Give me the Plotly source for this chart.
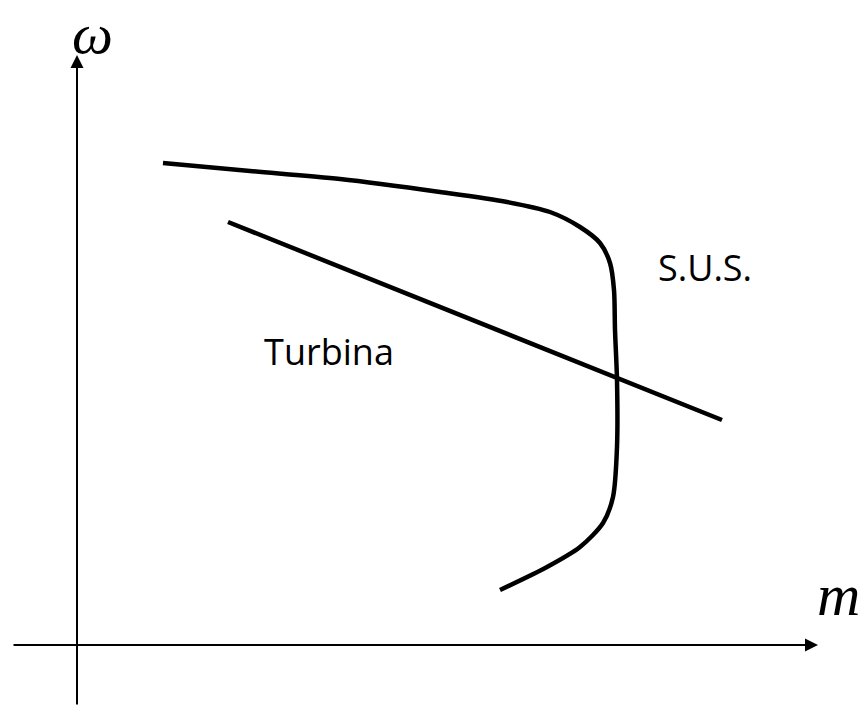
import plotly.graph_objects as go

# S.U.S. curve (m, omega) in chart units
sus_m = [86, 173, 263, 363, 430, 473, 503, 523, 533, 537, 538, 540, 540, 536, 526, 503, 470, 423]
sus_w = [482, 474, 466, 453, 443, 433, 418, 402, 382, 355, 315, 265, 198, 148, 122, 98, 78, 55]

# Turbina straight line
turb_m = [151, 645]
turb_w = [423, 225]

labels = ["Turbina", "S.U.S."]
label_m = [252, 628]
label_w = [289, 373]

fig = go.Figure()
fig.add_trace(go.Scatter(x=sus_m, y=sus_w, mode="lines", line=dict(color="black", width=4.5, shape="spline", smoothing=0.8), hoverinfo="skip"))
fig.add_trace(go.Scatter(x=turb_m, y=turb_w, mode="lines", line=dict(color="black", width=4.5), hoverinfo="skip"))
fig.add_trace(go.Scatter(x=label_m, y=label_w, mode="text", text=labels, textfont=dict(family="Open Sans", size=36, color="black"), hoverinfo="skip"))

# axes with arrows
fig.add_annotation(x=741, y=0, ax=-65, ay=0, xref="x", yref="y", axref="x", ayref="y",
                   showarrow=True, arrowhead=2, arrowsize=1.3, arrowwidth=2, arrowcolor="black", text="")
fig.add_annotation(x=0, y=590, ax=0, ay=-61, xref="x", yref="y", axref="x", ayref="y",
                   showarrow=True, arrowhead=2, arrowsize=1.3, arrowwidth=2, arrowcolor="black", text="")
fig.add_annotation(x=761, y=50, xref="x", yref="y", text="<i>m</i>", showarrow=False,
                   font=dict(family="Liberation Serif", size=60, color="black"))
fig.add_annotation(x=15, y=1, xref="x", yref="paper", yanchor="top", text="<i>ω</i>", showarrow=False,
                   borderpad=0, font=dict(family="Liberation Serif", size=58, color="black"))

fig.update_layout(width=864, height=706, margin=dict(l=0, r=0, t=0, b=0),
                  plot_bgcolor="white", paper_bgcolor="white", showlegend=False,
                  xaxis=dict(range=[-77, 787], visible=False, fixedrange=True),
                  yaxis=dict(range=[-61, 645], visible=False, fixedrange=True))
fig.write_html("out.html", config={"displayModeBar": False},
               post_script="document.body.style.margin='0px';")
